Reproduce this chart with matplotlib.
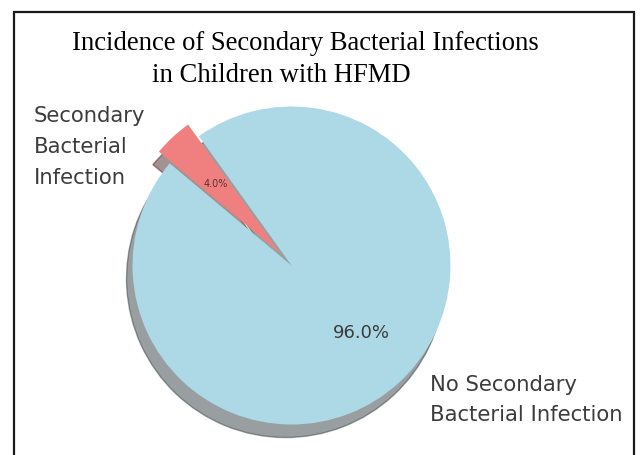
import matplotlib
matplotlib.use("Agg")
import matplotlib.pyplot as plt
from matplotlib.patches import Rectangle

labels = ["No Secondary\nBacterial Infection", "Secondary\nBacterial\nInfection"]
sizes = [96, 4]
colors = ["lightblue", "lightcoral"]
explode = (0, 0.1)

fig = plt.figure(figsize=(6.41, 4.55), dpi=100)
ax = fig.add_axes([0.1447, -0.0203, 0.6201, 0.8736])

wedges, texts, autotexts = ax.pie(
    sizes, labels=labels, colors=colors, explode=explode,
    autopct="%1.1f%%", startangle=140, pctdistance=0.6,
    shadow={"ox": -0.027, "oy": -0.059},
    textprops={"color": "#3c3c3c"})
ax.set_xlim(-1.25, 1.25)
ax.set_ylim(-1.25, 1.25)
ax.set_aspect("equal")

# outer labels
for t in texts:
    t.set_fontsize(15.2)
    t.set_linespacing(1.68)
    t.set_multialignment("left")
texts[0].set_position((0.871, -0.846))
texts[1].set_position((-0.921, 0.745))

autotexts[0].set_fontsize(13)
autotexts[0].set_position((0.437, -0.425))
autotexts[1].set_fontsize(7)
autotexts[1].set_color("#5a3030")

# title, two centred lines
fig.text(305 / 641, 1 - 44 / 455, "Incidence of Secondary Bacterial Infections",
         family="Liberation Serif", fontsize=19.2, ha="center", va="center", color="black")
fig.text(281 / 641, 1 - 76 / 455, "in Children with HFMD",
         family="Liberation Serif", fontsize=19.2, ha="center", va="center", color="black")

# frame round the figure
fig.patches.append(Rectangle((14 / 641, -0.1), 620 / 641, 1.1 - 12 / 455,
                             transform=fig.transFigure, fill=False,
                             edgecolor="#1a1a1a", linewidth=1.6, clip_on=False))

fig.savefig("out.png", dpi=100)
